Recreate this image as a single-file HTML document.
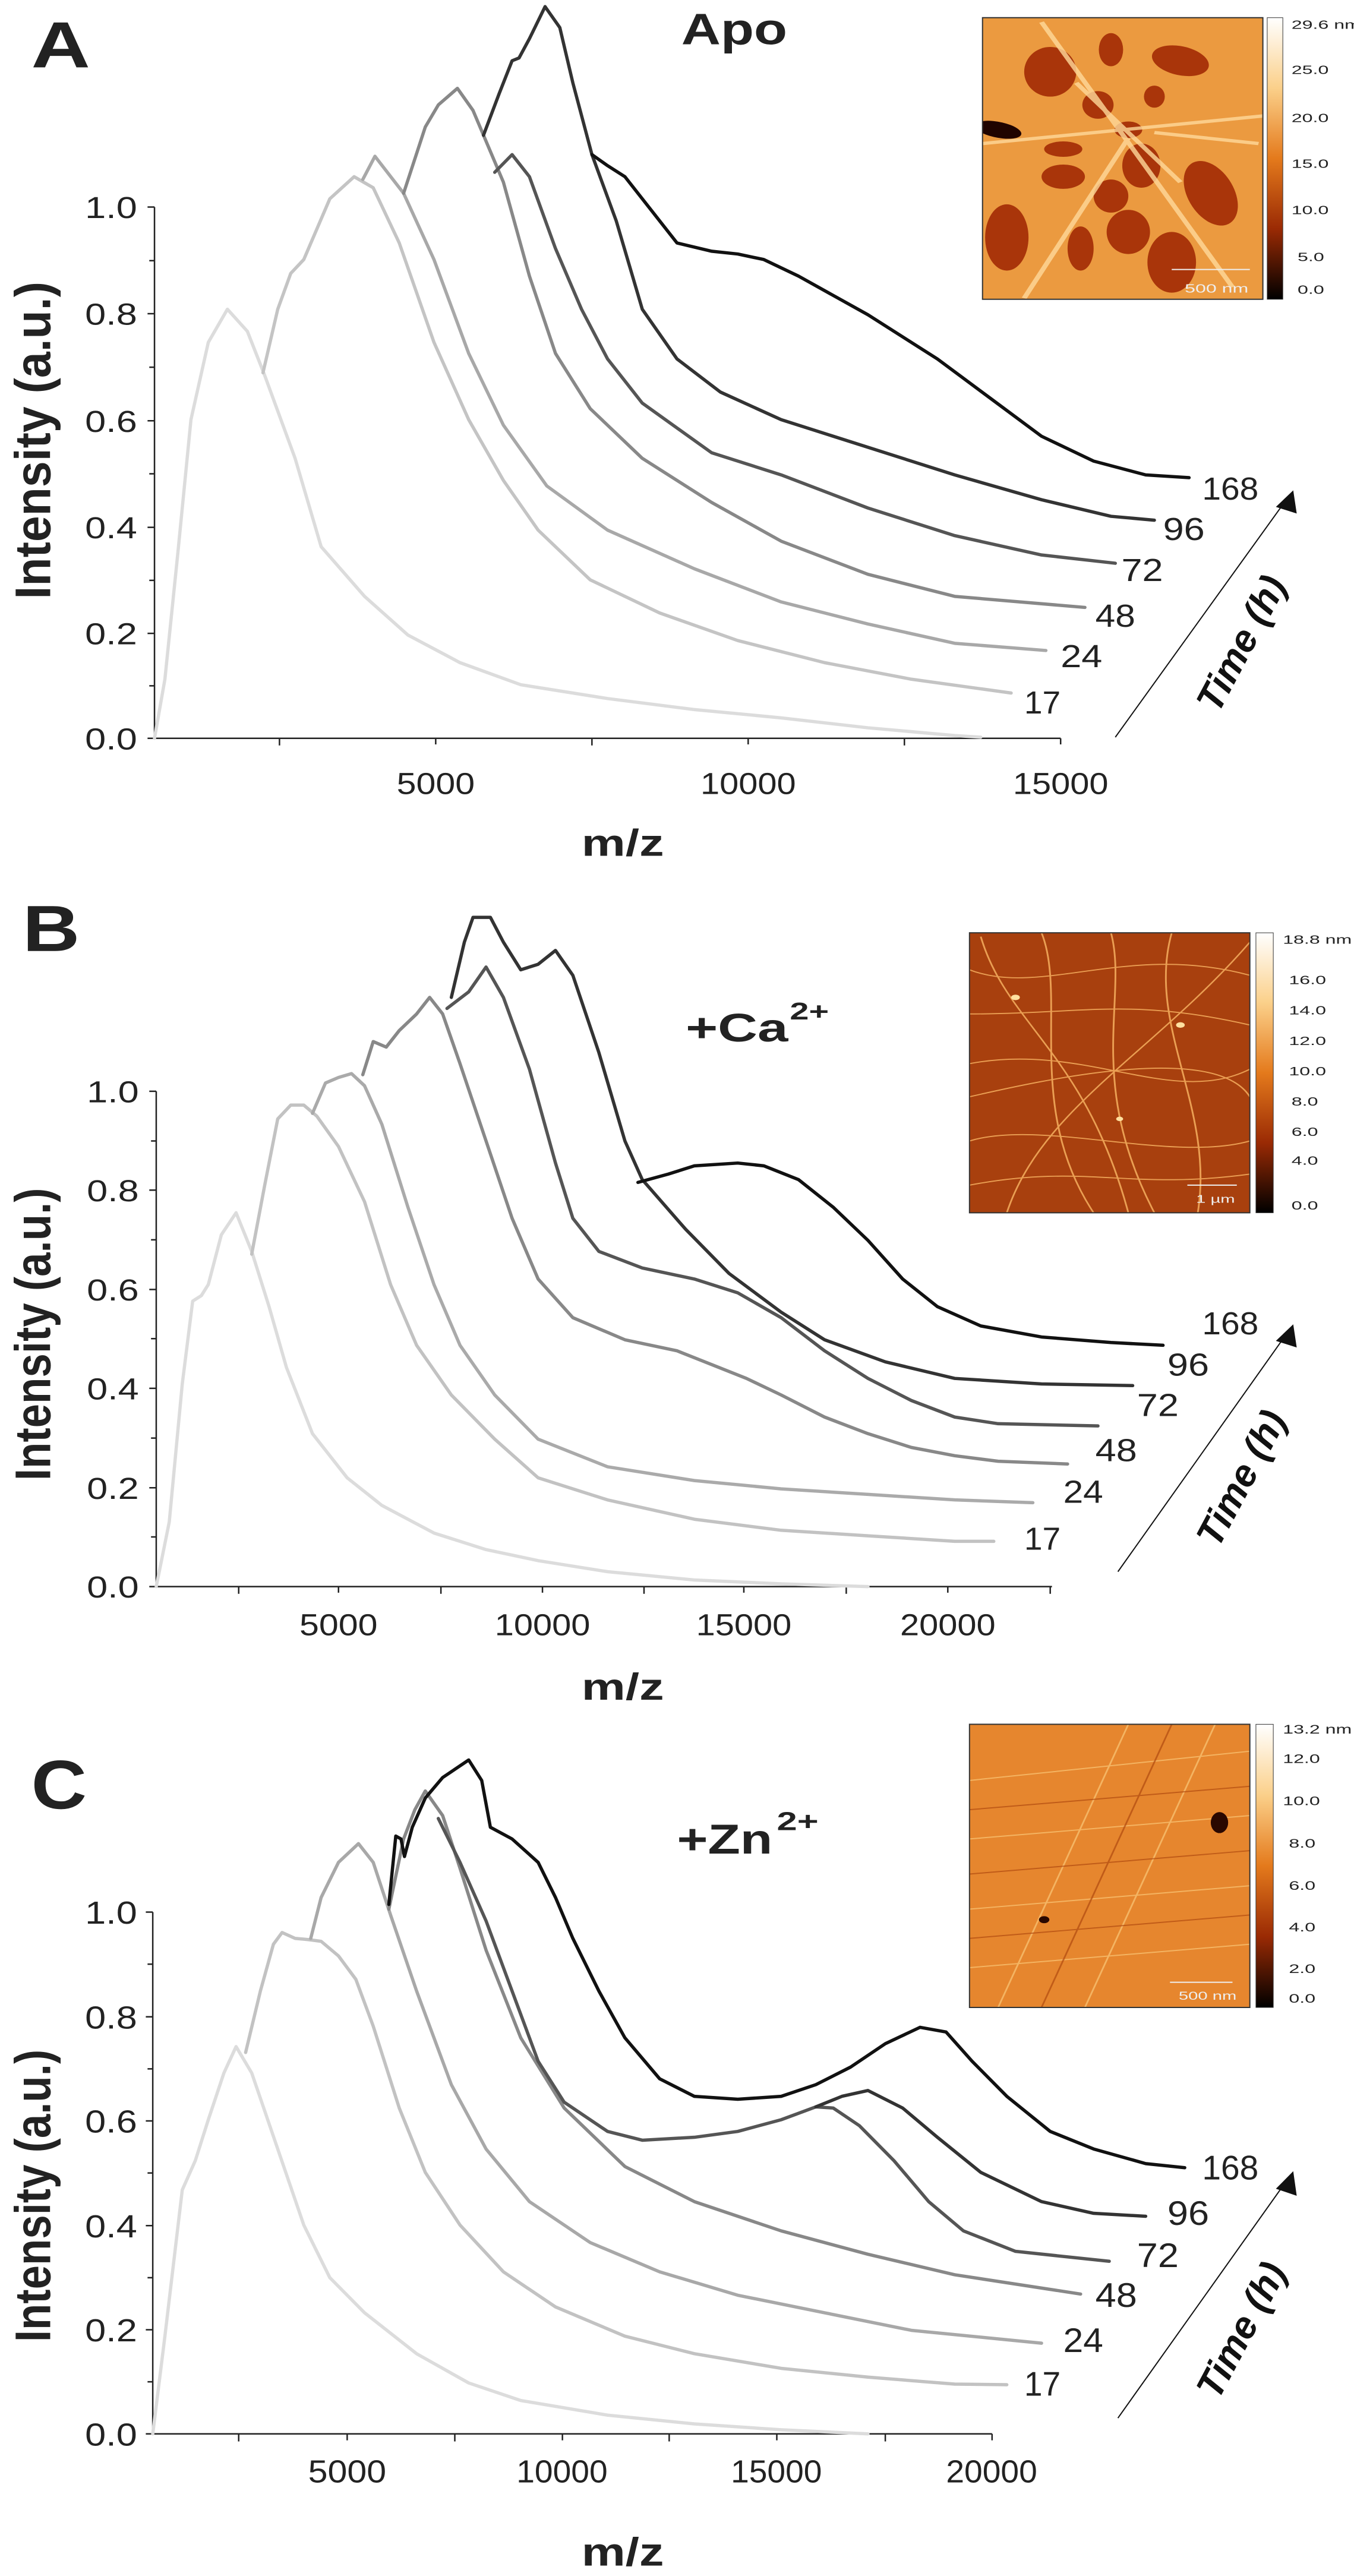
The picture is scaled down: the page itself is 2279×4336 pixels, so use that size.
<!DOCTYPE html>
<html><head><meta charset="utf-8"><style>
html,body{margin:0;padding:0;background:#fff;}
body{width:2279px;height:4336px;position:relative;overflow:hidden;font-family:"Liberation Sans",sans-serif;}
svg.p{position:absolute;left:0;overflow:visible;}
.c{fill:none;vector-effect:non-scaling-stroke;stroke-linejoin:round;stroke-linecap:round;stroke-width:5.5px;}
.ax{stroke:#222;vector-effect:non-scaling-stroke;fill:none;}
.t{font-family:"Liberation Sans",sans-serif;fill:#222;}
.time{position:absolute;font:italic bold 64px "Liberation Sans",sans-serif;color:#111;white-space:nowrap;transform-origin:center center;}
</style></head><body>

<!-- PANEL A -->
<svg class="p" style="top:0" width="2279" height="1450" viewBox="0 0 1560 1560" preserveAspectRatio="none">
<defs>
<linearGradient id="cb" x1="0" y1="0" x2="0" y2="1">
<stop offset="0" stop-color="#ffffff"/><stop offset="0.25" stop-color="#fbd08a"/><stop offset="0.5" stop-color="#e47a1c"/><stop offset="0.75" stop-color="#9a2a04"/><stop offset="1" stop-color="#000"/>
</linearGradient>
<clipPath id="ca"><rect x="1132" y="32" width="323" height="510"/></clipPath>
</defs>
<text class="t" x="36" y="122" font-size="118" font-weight="bold" textLength="68" lengthAdjust="spacingAndGlyphs">A</text>
<text class="t" x="785" y="80" font-size="80" font-weight="bold" textLength="122" lengthAdjust="spacingAndGlyphs">Apo</text>
<g clip-path="url(#ca)">
<rect x="1132" y="32" width="323" height="510" fill="#eb9a40"/>
<g fill="#a9350a">
<ellipse cx="1210" cy="130" rx="30" ry="45"/><ellipse cx="1280" cy="90" rx="14" ry="30"/><ellipse cx="1360" cy="110" rx="35" ry="25" transform="rotate(30 1360 110)"/>
<ellipse cx="1265" cy="190" rx="18" ry="25"/><ellipse cx="1300" cy="235" rx="16" ry="15"/><ellipse cx="1330" cy="175" rx="12" ry="20"/>
<ellipse cx="1225" cy="320" rx="25" ry="22"/><ellipse cx="1280" cy="355" rx="20" ry="30"/><ellipse cx="1315" cy="300" rx="22" ry="40"/>
<ellipse cx="1395" cy="350" rx="28" ry="60" transform="rotate(-15 1395 350)"/><ellipse cx="1160" cy="430" rx="25" ry="60"/><ellipse cx="1245" cy="450" rx="15" ry="40"/>
<ellipse cx="1300" cy="420" rx="25" ry="40"/><ellipse cx="1350" cy="475" rx="28" ry="55"/><ellipse cx="1225" cy="270" rx="22" ry="14"/>
</g>
<ellipse cx="1150" cy="235" rx="28" ry="14" fill="#200400" transform="rotate(20 1150 235)"/>
<g stroke="#ffd99a" stroke-width="6" fill="none" opacity="0.8" vector-effect="non-scaling-stroke">
<path d="M1132,260 L1455,210"/><path d="M1240,150 L1360,330"/><path d="M1330,240 L1450,260"/><path d="M1200,40 L1420,520"/><path d="M1180,540 L1300,250"/>
</g>
</g>
<rect x="1132" y="32" width="323" height="510" fill="none" stroke="#333" stroke-width="2" vector-effect="non-scaling-stroke"/>
<line x1="1350" y1="488" x2="1440" y2="488" stroke="#eee" stroke-width="2" vector-effect="non-scaling-stroke"/>
<text x="1365" y="530" font-size="22" fill="#eee" font-family="Liberation Sans">500 nm</text>
<rect x="1460" y="32" width="18" height="510" fill="url(#cb)" stroke="#333" stroke-width="1" vector-effect="non-scaling-stroke"/>
<g class="t" font-size="22" fill="#444">
<text x="1488" y="52">29.6 nm</text><text x="1488" y="134">25.0</text><text x="1488" y="221">20.0</text><text x="1488" y="304">15.0</text><text x="1488" y="388">10.0</text><text x="1495" y="473">5.0</text><text x="1495" y="532">0.0</text>
</g>
<path class="ax" stroke-width="2.5" d="M178,375 V1337 H1222"/>
<path class="ax" stroke-width="2.5" d="M170,375H178M170,568H178M170,762H178M170,955H178M170,1147H178M170,1337H178M172,472H178M172,665H178M172,858H178M172,1051H178M172,1242H178M322,1337V1350M502,1337V1348M682,1337V1350M862,1337V1348M1042,1337V1350M1222,1337V1348"/>
<g class="t" font-size="55">
<text x="98" y="395" textLength="60" lengthAdjust="spacingAndGlyphs">1.0</text>
<text x="98" y="588" textLength="60" lengthAdjust="spacingAndGlyphs">0.8</text>
<text x="98" y="782" textLength="60" lengthAdjust="spacingAndGlyphs">0.6</text>
<text x="98" y="975" textLength="60" lengthAdjust="spacingAndGlyphs">0.4</text>
<text x="98" y="1167" textLength="60" lengthAdjust="spacingAndGlyphs">0.2</text>
<text x="98" y="1357" textLength="60" lengthAdjust="spacingAndGlyphs">0.0</text>
<text x="457" y="1438" textLength="90" lengthAdjust="spacingAndGlyphs">5000</text>
<text x="807" y="1438" textLength="110" lengthAdjust="spacingAndGlyphs">10000</text>
<text x="1167" y="1438" textLength="110" lengthAdjust="spacingAndGlyphs">15000</text>
</g>
<text class="t" font-size="58" font-weight="bold" transform="translate(58,1085) rotate(-90)" textLength="575" lengthAdjust="spacingAndGlyphs">Intensity (a.u.)</text>
<text class="t" x="670" y="1550" font-size="68" font-weight="bold" textLength="95" lengthAdjust="spacingAndGlyphs">m/z</text>
<g class="t" font-size="58">
<text x="1385" y="905" textLength="65" lengthAdjust="spacingAndGlyphs">168</text>
<text x="1340" y="978" textLength="48" lengthAdjust="spacingAndGlyphs">96</text>
<text x="1292" y="1052" textLength="48" lengthAdjust="spacingAndGlyphs">72</text>
<text x="1262" y="1135" textLength="46" lengthAdjust="spacingAndGlyphs">48</text>
<text x="1222" y="1208" textLength="48" lengthAdjust="spacingAndGlyphs">24</text>
<text x="1180" y="1292" textLength="42" lengthAdjust="spacingAndGlyphs">17</text>
</g>
<line x1="1285" y1="1335" x2="1482" y2="905" stroke="#111" stroke-width="2" vector-effect="non-scaling-stroke"/>
<polygon points="1490,888 1494,930 1470,918" fill="#111"/>
<path class="c" stroke="#dcdcdc" d="M178,1337 L190,1230 L205,1000 L220,760 L240,620 L262,560 L285,600 L305,680 L340,830 L370,990 L420,1080 L470,1150 L530,1200 L600,1240 L700,1265 L800,1285 L900,1300 L1000,1318 L1100,1332 L1130,1335"/>
<path class="c" stroke="#c4c4c4" d="M303,675 L320,560 L335,495 L350,470 L380,360 L408,320 L430,340 L460,440 L500,620 L540,760 L580,870 L620,960 L680,1050 L760,1110 L850,1160 L950,1200 L1050,1230 L1165,1255"/>
<path class="c" stroke="#a8a8a8" d="M418,325 L432,283 L465,350 L500,470 L540,640 L580,770 L630,880 L700,960 L800,1030 L900,1090 L1000,1130 L1100,1165 L1205,1178"/>
<path class="c" stroke="#888" d="M465,350 L490,230 L505,190 L527,160 L545,200 L580,330 L610,500 L640,640 L680,740 L740,830 L820,910 L900,980 L1000,1040 L1100,1080 L1250,1100"/>
<path class="c" stroke="#555" d="M570,312 L590,280 L610,320 L640,450 L670,560 L700,650 L740,730 L820,820 L900,860 L1000,920 L1100,970 L1200,1005 L1285,1020"/>
<path class="c" stroke="#333" d="M557,245 L575,170 L590,110 L598,105 L610,70 L628,12 L645,50 L660,150 L682,280 L710,400 L740,560 L780,650 L830,710 L900,760 L1000,810 L1100,860 L1200,905 L1280,935 L1330,942"/>
<path class="c" stroke="#111" d="M682,280 L700,300 L720,320 L750,380 L780,440 L820,455 L850,460 L880,470 L920,500 L1000,570 L1080,650 L1140,720 L1200,790 L1260,835 L1320,860 L1370,865"/>
</svg>
<div class="time" style="left:1949px;top:1046px;width:280px;text-align:center;transform:rotate(-62deg)">Time (h)</div>

<!-- PANEL B -->
<svg class="p" style="top:1400px" width="2279" height="1450" viewBox="0 0 1560 1560" preserveAspectRatio="none">
<defs><clipPath id="cbp"><rect x="1117" y="183" width="323" height="507"/></clipPath></defs>
<text class="t" x="26" y="216" font-size="118" font-weight="bold" textLength="66" lengthAdjust="spacingAndGlyphs">B</text>
<text class="t" x="790" y="380" font-size="72" font-weight="bold" textLength="118" lengthAdjust="spacingAndGlyphs">+Ca</text>
<text class="t" x="910" y="340" font-size="44" font-weight="bold" textLength="45" lengthAdjust="spacingAndGlyphs">2+</text>
<g clip-path="url(#cbp)">
<rect x="1117" y="183" width="323" height="507" fill="#a8400e"/>
<g stroke="#f6b060" stroke-width="2" fill="none" opacity="0.85" vector-effect="non-scaling-stroke">
<path d="M1117,250 C1200,300 1300,200 1440,260"/><path d="M1130,190 C1160,350 1250,400 1300,690"/><path d="M1117,420 C1250,380 1350,500 1440,430"/><path d="M1200,183 C1230,300 1180,500 1260,690"/><path d="M1117,560 C1200,520 1350,600 1440,560"/><path d="M1350,183 C1320,350 1400,500 1380,690"/><path d="M1117,330 C1250,330 1300,300 1440,350"/><path d="M1160,690 C1200,500 1330,400 1440,200"/><path d="M1117,640 C1250,600 1300,650 1440,620"/><path d="M1280,183 C1300,300 1250,450 1330,690"/><path d="M1117,480 C1200,450 1400,380 1440,480"/></g>
<g fill="#ffe0a0"><circle cx="1170" cy="300" r="5"/><circle cx="1360" cy="350" r="5"/><circle cx="1290" cy="520" r="4"/></g>
</g>
<rect x="1117" y="183" width="323" height="507" fill="none" stroke="#333" stroke-width="2" vector-effect="non-scaling-stroke"/>
<line x1="1368" y1="640" x2="1425" y2="640" stroke="#eee" stroke-width="2" vector-effect="non-scaling-stroke"/>
<text x="1378" y="672" font-size="20" fill="#eee" font-family="Liberation Sans">1 µm</text>
<rect x="1447" y="183" width="20" height="507" fill="url(#cb)" stroke="#333" stroke-width="1" vector-effect="non-scaling-stroke"/>
<g class="t" font-size="22" fill="#444">
<text x="1478" y="203">18.8 nm</text><text x="1485" y="276">16.0</text><text x="1485" y="331">14.0</text><text x="1485" y="386">12.0</text><text x="1485" y="441">10.0</text><text x="1488" y="496">8.0</text><text x="1488" y="551">6.0</text><text x="1488" y="603">4.0</text><text x="1488" y="684">0.0</text>
</g>
<path class="ax" stroke-width="2.5" d="M180,470 V1367 H1212"/>
<path class="ax" stroke-width="2.5" d="M172,470H180M172,649H180M172,829H180M172,1008H180M172,1188H180M172,1367H180M174,560H180M174,739H180M174,918H180M174,1098H180M174,1277H180M275,1367V1380M390,1367V1378M508,1367V1380M625,1367V1378M742,1367V1380M857,1367V1378M975,1367V1380M1092,1367V1378M1210,1367V1380"/>
<g class="t" font-size="55">
<text x="100" y="490" textLength="60" lengthAdjust="spacingAndGlyphs">1.0</text>
<text x="100" y="669" textLength="60" lengthAdjust="spacingAndGlyphs">0.8</text>
<text x="100" y="849" textLength="60" lengthAdjust="spacingAndGlyphs">0.6</text>
<text x="100" y="1028" textLength="60" lengthAdjust="spacingAndGlyphs">0.4</text>
<text x="100" y="1208" textLength="60" lengthAdjust="spacingAndGlyphs">0.2</text>
<text x="100" y="1387" textLength="60" lengthAdjust="spacingAndGlyphs">0.0</text>
<text x="345" y="1455" textLength="90" lengthAdjust="spacingAndGlyphs">5000</text>
<text x="570" y="1455" textLength="110" lengthAdjust="spacingAndGlyphs">10000</text>
<text x="802" y="1455" textLength="110" lengthAdjust="spacingAndGlyphs">15000</text>
<text x="1037" y="1455" textLength="110" lengthAdjust="spacingAndGlyphs">20000</text>
</g>
<text class="t" font-size="58" font-weight="bold" transform="translate(58,1175) rotate(-90)" textLength="530" lengthAdjust="spacingAndGlyphs">Intensity (a.u.)</text>
<text class="t" x="670" y="1572" font-size="68" font-weight="bold" textLength="95" lengthAdjust="spacingAndGlyphs">m/z</text>
<g class="t" font-size="58">
<text x="1385" y="910" textLength="65" lengthAdjust="spacingAndGlyphs">168</text>
<text x="1345" y="985" textLength="48" lengthAdjust="spacingAndGlyphs">96</text>
<text x="1310" y="1058" textLength="48" lengthAdjust="spacingAndGlyphs">72</text>
<text x="1262" y="1140" textLength="48" lengthAdjust="spacingAndGlyphs">48</text>
<text x="1225" y="1215" textLength="46" lengthAdjust="spacingAndGlyphs">24</text>
<text x="1180" y="1300" textLength="42" lengthAdjust="spacingAndGlyphs">17</text>
</g>
<line x1="1288" y1="1340" x2="1482" y2="910" stroke="#111" stroke-width="2" vector-effect="non-scaling-stroke"/>
<polygon points="1490,892 1494,934 1470,922" fill="#111"/>
<path class="c" stroke="#dcdcdc" d="M180,1367 L195,1250 L210,1000 L222,850 L232,840 L240,820 L255,730 L272,690 L290,760 L310,860 L330,970 L360,1090 L400,1170 L440,1220 L500,1270 L560,1300 L620,1320 L700,1340 L800,1355 L900,1362 L1000,1367"/>
<path class="c" stroke="#c2c2c2" d="M290,765 L305,640 L320,520 L335,495 L350,495 L365,515 L390,570 L420,670 L450,820 L480,930 L520,1020 L570,1100 L620,1170 L700,1210 L800,1245 L900,1265 L1000,1275 L1100,1285 L1145,1285"/>
<path class="c" stroke="#aaa" d="M360,510 L375,455 L390,445 L405,438 L420,460 L440,530 L470,680 L500,820 L530,930 L570,1020 L620,1100 L700,1150 L800,1175 L900,1190 L1000,1200 L1100,1210 L1190,1215"/>
<path class="c" stroke="#888" d="M418,440 L430,380 L445,390 L460,360 L480,330 L495,300 L510,330 L530,420 L560,560 L590,700 L620,810 L660,880 L720,920 L780,940 L820,965 L860,990 L900,1020 L950,1060 L1000,1090 L1050,1115 L1100,1130 L1150,1140 L1230,1145"/>
<path class="c" stroke="#555" d="M515,320 L540,290 L560,245 L580,300 L610,430 L640,600 L660,700 L690,760 L740,790 L800,810 L850,835 L900,880 L950,940 L1000,990 L1050,1030 L1100,1060 L1150,1072 L1265,1076"/>
<path class="c" stroke="#333" d="M520,300 L535,200 L545,155 L565,155 L580,200 L600,250 L620,240 L640,215 L660,260 L690,400 L720,560 L740,630 L790,720 L840,800 L900,870 L950,920 L1020,960 L1100,990 L1200,1000 L1305,1003"/>
<path class="c" stroke="#111" d="M735,635 L770,620 L800,605 L850,600 L880,605 L920,630 L960,680 L1000,740 L1040,810 L1080,860 L1130,895 L1200,915 L1280,925 L1340,930"/>
</svg>
<div class="time" style="left:1949px;top:2451px;width:280px;text-align:center;transform:rotate(-62deg)">Time (h)</div>

<!-- PANEL C -->
<svg class="p" style="top:2800px" width="2279" height="1536" viewBox="0 0 1560 1560" preserveAspectRatio="none">
<defs><clipPath id="ccp"><rect x="1117" y="104" width="323" height="484"/></clipPath></defs>
<text class="t" x="36" y="248" font-size="118" font-weight="bold" textLength="64" lengthAdjust="spacingAndGlyphs">C</text>
<text class="t" x="780" y="325" font-size="72" font-weight="bold" textLength="110" lengthAdjust="spacingAndGlyphs">+Zn</text>
<text class="t" x="895" y="285" font-size="44" font-weight="bold" textLength="48" lengthAdjust="spacingAndGlyphs">2+</text>
<g clip-path="url(#ccp)">
<rect x="1117" y="104" width="323" height="484" fill="#e6862e"/>
<g stroke="#f8c070" stroke-width="2" fill="none" opacity="0.8" vector-effect="non-scaling-stroke">
<path d="M1117,200 L1440,150"/><path d="M1117,300 L1440,260"/><path d="M1117,420 L1440,380"/><path d="M1117,520 L1440,480"/><path d="M1150,588 L1300,104"/><path d="M1250,588 L1400,104"/></g>
<g stroke="#b04a10" stroke-width="2" fill="none" opacity="0.7" vector-effect="non-scaling-stroke">
<path d="M1117,250 L1440,210"/><path d="M1117,360 L1440,320"/><path d="M1117,470 L1440,430"/><path d="M1200,588 L1350,104"/></g>
<ellipse cx="1405" cy="272" rx="10" ry="18" fill="#2a0800"/>
<circle cx="1203" cy="438" r="6" fill="#2a0800"/>
</g>
<rect x="1117" y="104" width="323" height="484" fill="none" stroke="#333" stroke-width="2" vector-effect="non-scaling-stroke"/>
<line x1="1348" y1="545" x2="1420" y2="545" stroke="#eee" stroke-width="2" vector-effect="non-scaling-stroke"/>
<text x="1358" y="575" font-size="20" fill="#eee" font-family="Liberation Sans">500 nm</text>
<rect x="1447" y="104" width="20" height="484" fill="url(#cb)" stroke="#333" stroke-width="1" vector-effect="non-scaling-stroke"/>
<g class="t" font-size="22" fill="#444">
<text x="1478" y="120">13.2 nm</text><text x="1478" y="170">12.0</text><text x="1478" y="242">10.0</text><text x="1485" y="315">8.0</text><text x="1485" y="387">6.0</text><text x="1485" y="458">4.0</text><text x="1485" y="529">2.0</text><text x="1485" y="580">0.0</text>
</g>
<path class="ax" stroke-width="2.5" d="M176,425 V1317 H1143"/>
<path class="ax" stroke-width="2.5" d="M168,425H176M168,604H176M168,782H176M168,961H176M168,1139H176M168,1317H176M170,514H176M170,693H176M170,871H176M170,1050H176M170,1228H176M275,1317V1330M400,1317V1328M524,1317V1330M648,1317V1328M771,1317V1330M895,1317V1328M1020,1317V1330M1143,1317V1328"/>
<g class="t" font-size="55">
<text x="98" y="445" textLength="60" lengthAdjust="spacingAndGlyphs">1.0</text>
<text x="98" y="624" textLength="60" lengthAdjust="spacingAndGlyphs">0.8</text>
<text x="98" y="802" textLength="60" lengthAdjust="spacingAndGlyphs">0.6</text>
<text x="98" y="981" textLength="60" lengthAdjust="spacingAndGlyphs">0.4</text>
<text x="98" y="1159" textLength="60" lengthAdjust="spacingAndGlyphs">0.2</text>
<text x="98" y="1337" textLength="60" lengthAdjust="spacingAndGlyphs">0.0</text>
<text x="355" y="1400" textLength="90" lengthAdjust="spacingAndGlyphs">5000</text>
<text x="595" y="1400" textLength="105" lengthAdjust="spacingAndGlyphs">10000</text>
<text x="842" y="1400" textLength="105" lengthAdjust="spacingAndGlyphs">15000</text>
<text x="1090" y="1400" textLength="105" lengthAdjust="spacingAndGlyphs">20000</text>
</g>
<text class="t" font-size="58" font-weight="bold" transform="translate(58,1160) rotate(-90)" textLength="500" lengthAdjust="spacingAndGlyphs">Intensity (a.u.)</text>
<text class="t" x="670" y="1542" font-size="68" font-weight="bold" textLength="95" lengthAdjust="spacingAndGlyphs">m/z</text>
<g class="t" font-size="58">
<text x="1385" y="882" textLength="65" lengthAdjust="spacingAndGlyphs">168</text>
<text x="1345" y="960" textLength="48" lengthAdjust="spacingAndGlyphs">96</text>
<text x="1310" y="1032" textLength="48" lengthAdjust="spacingAndGlyphs">72</text>
<text x="1262" y="1100" textLength="48" lengthAdjust="spacingAndGlyphs">48</text>
<text x="1225" y="1177" textLength="46" lengthAdjust="spacingAndGlyphs">24</text>
<text x="1180" y="1252" textLength="42" lengthAdjust="spacingAndGlyphs">17</text>
</g>
<line x1="1288" y1="1290" x2="1482" y2="885" stroke="#111" stroke-width="2" vector-effect="non-scaling-stroke"/>
<polygon points="1490,868 1494,910 1470,898" fill="#111"/>
<path class="c" stroke="#dcdcdc" d="M176,1317 L190,1150 L210,900 L225,850 L240,780 L258,700 L272,655 L290,700 L320,830 L350,960 L380,1050 L420,1110 L480,1180 L540,1230 L600,1260 L700,1285 L800,1300 L900,1310 L1000,1317"/>
<path class="c" stroke="#c2c2c2" d="M283,665 L300,560 L315,480 L325,460 L340,470 L355,472 L370,475 L390,500 L410,540 L430,620 L460,760 L490,870 L530,960 L580,1040 L640,1100 L720,1150 L800,1180 L900,1205 L1000,1220 L1100,1232 L1160,1233"/>
<path class="c" stroke="#a8a8a8" d="M358,470 L370,400 L390,340 L413,308 L430,340 L450,430 L480,560 L520,720 L560,830 L610,920 L680,990 L760,1040 L850,1080 L950,1110 L1050,1140 L1200,1162"/>
<path class="c" stroke="#888" d="M448,420 L465,300 L478,250 L490,218 L510,260 L530,350 L560,490 L600,640 L650,760 L720,860 L800,920 L900,970 L1000,1010 L1100,1045 L1245,1078"/>
<path class="c" stroke="#555" d="M505,265 L530,340 L560,440 L590,560 L620,680 L650,750 L700,800 L740,815 L800,810 L850,800 L900,780 L940,758 L960,760 L990,790 L1030,850 L1070,920 L1110,970 L1170,1005 L1278,1022"/>
<path class="c" stroke="#333" d="M940,758 L970,740 L1000,730 L1040,760 L1080,810 L1130,870 L1200,920 L1260,940 L1320,945"/>
<path class="c" stroke="#111" d="M448,412 L456,295 L462,300 L466,330 L475,280 L490,230 L510,195 L540,165 L555,200 L565,280 L590,300 L620,340 L640,400 L660,470 L690,560 L720,640 L760,710 L800,740 L850,745 L900,740 L940,720 L980,690 L1020,650 L1060,622 L1090,630 L1120,680 L1160,740 L1210,800 L1260,830 L1320,855 L1365,862"/>
</svg>
<div class="time" style="left:1949px;top:3885px;width:280px;text-align:center;transform:rotate(-62deg)">Time (h)</div>

</body></html>
